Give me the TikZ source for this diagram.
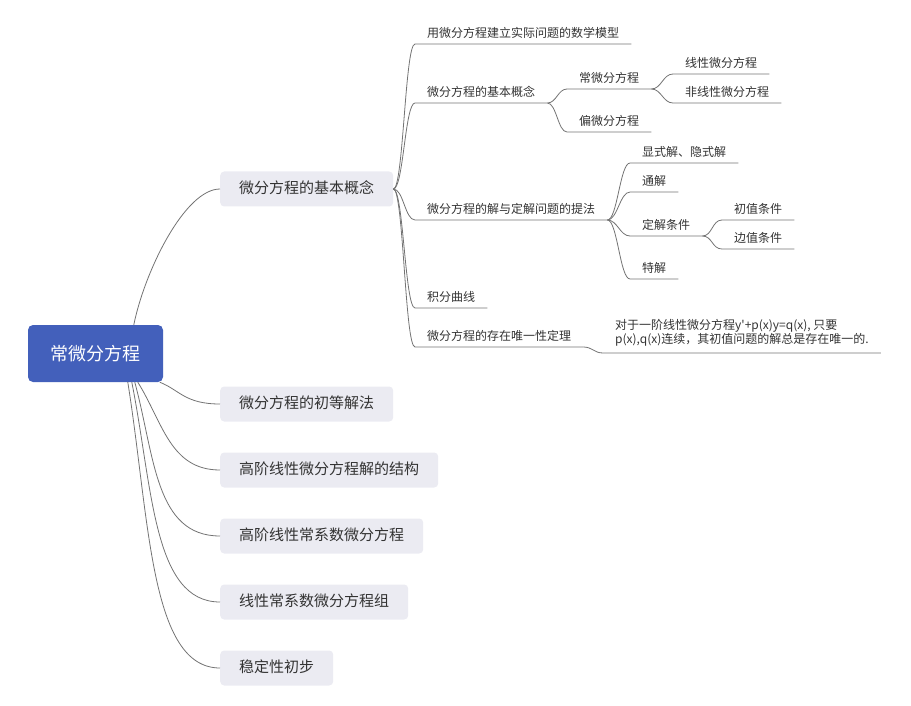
\documentclass[tikz,border=0pt]{standalone}
\usepackage{fontspec}
\setmainfont{Noto Sans CJK SC}
\definecolor{rootblue}{RGB}{67,96,187}
\definecolor{topicgray}{RGB}{235,235,242}
\definecolor{linegray}{RGB}{115,115,115}
\definecolor{textgray}{RGB}{51,51,51}
\begin{document}
\begin{tikzpicture}[x=1pt, y=-1pt,
  root/.style={rectangle, rounded corners=5pt, fill=rootblue, text=white, font=\fontsize{18}{22}\selectfont, minimum width=135pt, minimum height=57pt},
  topic/.style={rectangle, rounded corners=4pt, fill=topicgray, text=textgray, font=\fontsize{15}{18}\selectfont, minimum height=35pt, inner xsep=19pt, text height=11pt, text depth=2pt, anchor=west},
  sub/.style={inner xsep=12pt, inner ysep=3pt, text height=9pt, text depth=3pt, anchor=south west, text=textgray, font=\fontsize{12}{14}\selectfont},
  link/.style={draw=linegray, line width=0.8pt}]
\useasboundingbox (0,0) rectangle (911,706);
\node[root] (tp0) at (95.5,353.5){常微分方程};
\node[topic] (tp1) at (220,189){微分方程的基本概念};
\node[topic] (tp2) at (220,404){微分方程的初等解法};
\node[topic] (tp3) at (220,470){高阶线性微分方程解的结构};
\node[topic] (tp4) at (220,536){高阶线性常系数微分方程};
\node[topic] (tp5) at (220,602){线性常系数微分方程组};
\node[topic] (tp6) at (220,668){稳定性初步};
\draw[link] ([xshift=106pt]tp0.north west) .. controls +(11,-54) and +(-35,0) .. (tp1.west);
\draw[link] ([xshift=132pt]tp0.south west) .. controls +(20,8) and +(-35,0) .. (tp2.west);
\draw[link] ([xshift=110pt]tp0.south west) .. controls +(25,40) and +(-50,0) .. (tp3.west);
\draw[link] ([xshift=107pt]tp0.south west) .. controls +(20,74) and +(-65,0) .. (tp4.west);
\draw[link] ([xshift=104pt]tp0.south west) .. controls +(21,106) and +(-67,0) .. (tp5.west);
\draw[link] ([xshift=100pt]tp0.south west) .. controls +(22,138) and +(-70,0) .. (tp6.west);
\node[sub] (tp11) at (415,44){用微分方程建立实际问题的数学模型};
\node[sub] (tp12) at (415,103){微分方程的基本概念};
\node[sub] (tp121) at (567,89){常微分方程};
\node[sub] (tp1211) at (673,74){线性微分方程};
\node[sub] (tp1212) at (673,103){非线性微分方程};
\node[sub] (tp122) at (567,132){偏微分方程};
\node[sub] (tp13) at (415,220){微分方程的解与定解问题的提法};
\node[sub] (tp131) at (630,163){显式解、隐式解};
\node[sub] (tp132) at (630,192){通解};
\node[sub] (tp133) at (630,236){定解条件};
\node[sub] (tp1331) at (722,220){初值条件};
\node[sub] (tp1332) at (722,249){边值条件};
\node[sub] (tp134) at (630,279){特解};
\node[sub] (tp14) at (415,308){积分曲线};
\node[sub] (tp15) at (415,347){微分方程的存在唯一性定理};
\node[sub, align=left, inner ysep=6pt] (tp151) at (603,353){对于一阶线性微分方程y\textquotesingle+p(x)y=q(x), 只要\\p(x),q(x)连续，其初值问题的解总是存在唯一的.};
\draw[link] (tp1.east) .. controls +(10,0) and +(-10,0) .. (tp11.south west) -- (tp11.south east);
\draw[link] (tp1.east) .. controls +(10,0) and +(-10,0) .. (tp12.south west) -- (tp12.south east);
\draw[link] (tp1.east) .. controls +(10,0) and +(-10,0) .. (tp13.south west) -- (tp13.south east);
\draw[link] (tp1.east) .. controls +(10,0) and +(-10,0) .. (tp14.south west) -- (tp14.south east);
\draw[link] (tp1.east) .. controls +(10,0) and +(-10,0) .. (tp15.south west) -- (tp15.south east);
\draw[link] (tp12.south east) .. controls +(9,0) and +(-9,0) .. (tp121.south west) -- (tp121.south east);
\draw[link] (tp12.south east) .. controls +(9,0) and +(-9,0) .. (tp122.south west) -- (tp122.south east);
\draw[link] (tp121.south east) .. controls +(10,0) and +(-10,0) .. (tp1211.south west) -- (tp1211.south east);
\draw[link] (tp121.south east) .. controls +(10,0) and +(-10,0) .. (tp1212.south west) -- (tp1212.south east);
\draw[link] (tp13.south east) .. controls +(10,0) and +(-10,0) .. (tp131.south west) -- (tp131.south east);
\draw[link] (tp13.south east) .. controls +(10,0) and +(-10,0) .. (tp132.south west) -- (tp132.south east);
\draw[link] (tp13.south east) .. controls +(10,0) and +(-10,0) .. (tp133.south west) -- (tp133.south east);
\draw[link] (tp13.south east) .. controls +(10,0) and +(-10,0) .. (tp134.south west) -- (tp134.south east);
\draw[link] (tp133.south east) .. controls +(10,0) and +(-10,0) .. (tp1331.south west) -- (tp1331.south east);
\draw[link] (tp133.south east) .. controls +(10,0) and +(-10,0) .. (tp1332.south west) -- (tp1332.south east);
\draw[link] (tp15.south east) .. controls +(9,0) and +(-9,0) .. (tp151.south west) -- (tp151.south east);
\end{tikzpicture}
\end{document}
